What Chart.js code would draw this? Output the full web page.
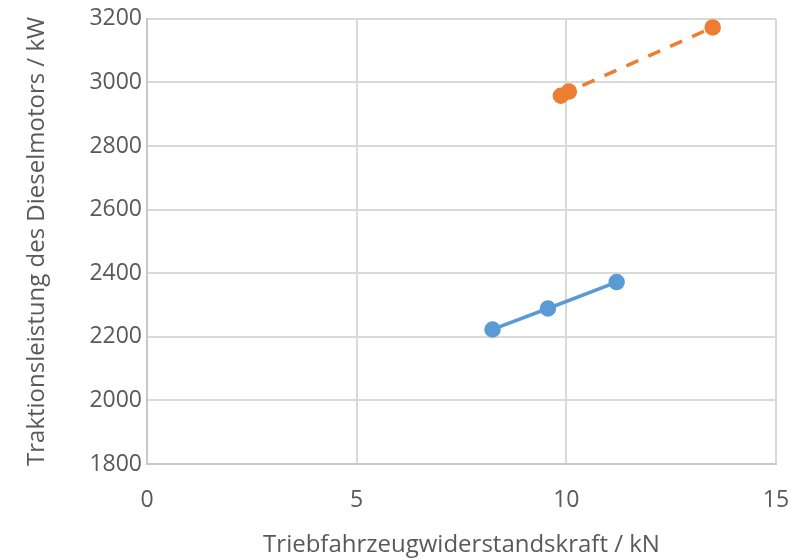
<!DOCTYPE html>
<html>
<head>
<meta charset="utf-8">
<script src="https://cdn.jsdelivr.net/npm/chart.js@4"></script>
<style>
html,body{margin:0;padding:0;background:#fff;}
#wrap{width:795px;height:560px;}
</style>
</head>
<body>
<div id="wrap"><canvas id="c" width="795" height="560"></canvas></div>
<script>
const xTitle = "Triebfahrzeugwiderstandskraft / kN";
const yTitle = "Traktionsleistung des Dieselmotors / kW";
const seriesAX = [8.24, 9.56, 11.20];
const seriesAY = [2223, 2289, 2372];
const seriesBX = [9.87, 10.06, 13.49];
const seriesBY = [2958, 2971, 3173];
const xTicks = [0, 5, 10, 15];
const yTicks = [1800, 2000, 2200, 2400, 2600, 2800, 3000, 3200];

const toPts = (xs, ys) => xs.map((x, i) => ({x: x, y: ys[i]}));
const FONT = "'Open Sans', 'Liberation Sans', sans-serif";
const grey = '#595959';

new Chart(document.getElementById('c'), {
  type: 'scatter',
  data: {
    datasets: [
      {
        data: toPts(seriesAX, seriesAY),
        showLine: true,
        borderColor: '#5b9bd5',
        backgroundColor: '#5b9bd5',
        borderWidth: 3.5,
        pointRadius: 6.5,
        pointHoverRadius: 6.5
      },
      {
        data: toPts(seriesBX, seriesBY),
        showLine: true,
        borderColor: '#ed7d31',
        backgroundColor: '#ed7d31',
        borderWidth: 3.5,
        borderDash: [13, 11],
        pointRadius: 6.5,
        pointHoverRadius: 6.5
      }
    ]
  },
  options: {
    responsive: false,
    animation: false,
    plugins: { legend: { display: false }, tooltip: { enabled: false } },
    layout: { padding: { top: 18, right: 19, left: 0, bottom: 0 } },
    scales: {
      x: {
        type: 'linear',
        min: 0, max: 15,
        afterBuildTicks: s => { s.ticks = xTicks.map(v => ({value: v})); },
        afterFit: s => { s.height = 96; s.paddingRight = 0; s.paddingLeft = 0; },
        grid: { color: '#d9d9d9', lineWidth: 2, drawTicks: false },
        border: { color: '#c8c8c8', width: 2 },
        ticks: { color: grey, font: { family: FONT, size: 23 }, padding: 23, maxRotation: 0, callback: v => String(v) },
        title: { display: true, text: xTitle, color: grey, font: { family: FONT, size: 24 }, padding: { top: 0, bottom: 0 } }
      },
      y: {
        type: 'linear',
        min: 1800, max: 3200,
        afterBuildTicks: s => { s.ticks = yTicks.map(v => ({value: v})); },
        afterFit: s => { s.width = 147; },
        grid: { color: '#d9d9d9', lineWidth: 2, drawTicks: false },
        border: { color: '#c8c8c8', width: 2 },
        ticks: { color: grey, font: { family: FONT, size: 23 }, padding: 5, callback: v => String(v) },
        title: { display: true, text: yTitle, color: grey, font: { family: FONT, size: 24 }, padding: { top: 23, bottom: 0 } }
      }
    }
  }
});
</script>
</body>
</html>
